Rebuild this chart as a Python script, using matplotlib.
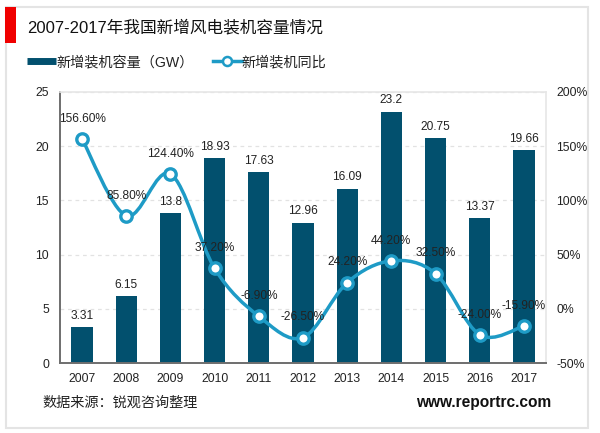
import matplotlib
matplotlib.use('Agg')
import matplotlib.pyplot as plt
from matplotlib.lines import Line2D
from matplotlib.patches import Rectangle, PathPatch
from matplotlib.path import Path

plt.rcParams['font.family'] = ['Liberation Sans', 'Noto Sans CJK SC', 'DejaVu Sans']

years = ['2007', '2008', '2009', '2010', '2011', '2012', '2013', '2014', '2015', '2016', '2017']
capacity = [3.31, 6.15, 13.8, 18.93, 17.63, 12.96, 16.09, 23.2, 20.75, 13.37, 19.66]
capacity_labels = ['3.31', '6.15', '13.8', '18.93', '17.63', '12.96', '16.09', '23.2', '20.75', '13.37', '19.66']
growth = [156.6, 85.8, 124.4, 37.2, -6.9, -26.5, 24.2, 44.2, 32.5, -24.0, -15.9]
left_ticks = [0, 5, 10, 15, 20, 25]
right_ticks = [-50, 0, 50, 100, 150, 200]
title = '2007-2017年我国新增风电装机容量情况'
bar_name = '新增装机容量（GW）'
line_name = '新增装机同比'
source = '数据来源：锐观咨询整理'
site = 'www.reportrc.com'

BAR = '#02506E'
LINE = '#1E9BC6'
TXT = '#222222'
W, H = 600, 433

fig = plt.figure(figsize=(W / 100, H / 100), dpi=100, facecolor='white')
fig.add_artist(Rectangle((5.5 / W, 1 - 428 / H), 582 / W, 421 / H, transform=fig.transFigure,
                         fill=False, ec='#E4E4E4', lw=1.5))
fig.add_artist(Rectangle((5 / W, 1 - 43 / H), 11 / W, 36 / H, transform=fig.transFigure,
                         fc='#F00000', ec='none'))

ax = fig.add_axes([60 / W, 1 - 363 / H, 486 / W, 271 / H])
xs = list(range(len(years)))
bars = ax.bar(xs, capacity, width=0.48, color=BAR, zorder=2)
ax.set_xlim(-0.5, len(years) - 0.5)
ax.set_ylim(0, 25)
ax.set_yticks(left_ticks)
ax.set_xticks(xs)
ax.set_xticklabels(years)
ax.tick_params(axis='both', length=0, labelsize=8.8, labelcolor=TXT)
ax.tick_params(axis='x', pad=7.5)
ax.tick_params(axis='y', pad=8)
ax.yaxis.grid(True, color='#E2E2E2', ls=(0, (3, 3)), lw=0.9, zorder=0)
ax.set_axisbelow(True)
for s in ['top', 'right']:
    ax.spines[s].set_color('#E6E6E6')
    ax.spines[s].set_linewidth(1.2)
for s in ['left', 'bottom']:
    ax.spines[s].set_color('#6E6E6E')
    ax.spines[s].set_linewidth(1.4)
for x, v, t in zip(xs, capacity, capacity_labels):
    ax.annotate(t, (x, v), xytext=(0, 8), textcoords='offset points', ha='center', va='center',
                fontsize=8.6, color=TXT, zorder=6)

ax2 = ax.twinx()
ax2.set_ylim(-50, 200)
ax2.set_yticks(right_ticks)
ax2.set_yticklabels([f'{t}%' for t in right_ticks])
ax2.tick_params(axis='y', length=0, labelsize=8.8, labelcolor=TXT, pad=7.5)
for s in ax2.spines.values():
    s.set_visible(False)

# Smooth connector through the data points (Bezier segments, as a spreadsheet draws them)
verts = [(xs[0], growth[0])]
codes = [Path.MOVETO]
n = len(xs)
k = 1 / 6
for i in range(n - 1):
    p0 = (xs[max(i - 1, 0)], growth[max(i - 1, 0)])
    p1 = (xs[i], growth[i])
    p2 = (xs[i + 1], growth[i + 1])
    p3 = (xs[min(i + 2, n - 1)], growth[min(i + 2, n - 1)])
    verts += [(p1[0] + (p2[0] - p0[0]) * k, p1[1] + (p2[1] - p0[1]) * k),
              (p2[0] - (p3[0] - p1[0]) * k, p2[1] - (p3[1] - p1[1]) * k), p2]
    codes += [Path.CURVE4] * 3
ax2.add_patch(PathPatch(Path(verts, codes), fill=False, ec=LINE, lw=2.5, zorder=3, capstyle='round'))
ax2.plot(xs, growth, ls='none', marker='o', ms=8.2, mfc='white', mec=LINE, mew=2.4, zorder=4)
for x, v in zip(xs, growth):
    ax2.annotate(f'{v:.2f}%', (x, v), xytext=(0, 14.6), textcoords='offset points', ha='center',
                 va='center', fontsize=8.6, color=TXT, zorder=6)

fig.text(27 / W, 1 - 28 / H, title, fontsize=12, color='#111111', va='center', ha='left')
handles = [Line2D([], [], color=BAR, lw=5, solid_capstyle='butt'),
           Line2D([], [], color=LINE, lw=2.5, marker='o', ms=6.5, mfc='white', mec=LINE, mew=1.8)]
fig.legend(handles, [bar_name, line_name], loc='center left', bbox_to_anchor=(27 / W, 1 - 62 / H),
           frameon=False, ncol=2, fontsize=10.2, handlelength=2.05, handletextpad=0.0,
           columnspacing=1.35, borderaxespad=0, borderpad=0, labelcolor='#222222')
fig.text(42 / W, 1 - 403 / H, source, fontsize=10.2, color='#222222', va='center', ha='left')
fig.text(551 / W, 1 - 403 / H, site, fontsize=11.2, fontweight='bold', color='#111111', va='center', ha='right')

fig.savefig('out.png', dpi=100)
